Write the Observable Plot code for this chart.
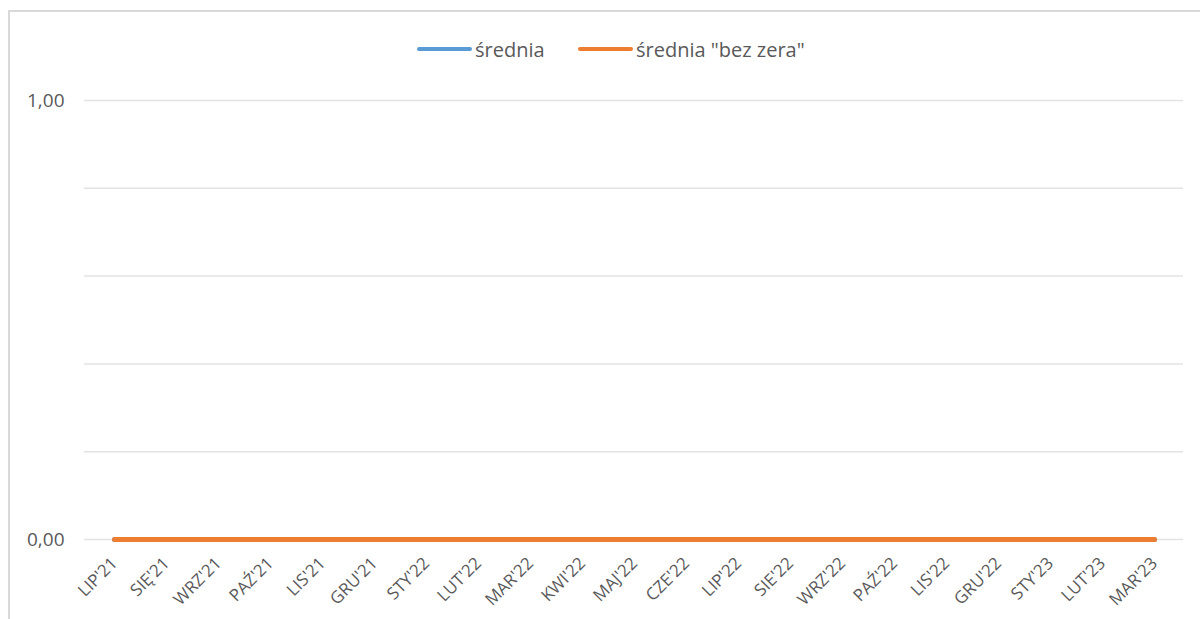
<!DOCTYPE html>
<html>
<head>
<meta charset="utf-8">
<script src="https://cdn.jsdelivr.net/npm/d3@7"></script>
<script src="https://cdn.jsdelivr.net/npm/@observablehq/plot@0.6"></script>
<style>
  html, body { margin: 0; padding: 0; background: #fff; overflow: hidden; width: 1200px; height: 619px; }
  #frame { position: absolute; left: 8px; top: 10px; width: 1300px; height: 700px; border: 2px solid #d9d9d9; box-sizing: border-box; pointer-events: none; }
  #legend { position: absolute; top: 34px; left: 0; width: 1200px; height: 30px; font-family: "Open Sans", sans-serif; font-size: 20px; color: #595959; }
  .item { position: absolute; top: 0; display: flex; align-items: center; height: 30px; }
  .sw { width: 55px; height: 4px; border-radius: 2px; margin-right: 3px; }
  #chart { position: absolute; left: 0; top: 0; }
</style>
</head>
<body>
<div id="chart"></div>
<div id="frame"></div>
<div id="legend"></div>
<script>
const months = ["LIP'21","SIĘ'21","WRZ'21","PAŹ'21","LIS'21","GRU'21","STY'22","LUT'22","MAR'22","KWI'22","MAJ'22","CZE'22","LIP'22","SIE'22","WRZ'22","PAŹ'22","LIS'22","GRU'22","STY'23","LUT'23","MAR'23"];
const srednia =        [0,0,0,0,0,0,0,0,0,0,0,0,0,0,0,0,0,0,0,0,0];
const sredniaBezZera = [0,0,0,0,0,0,0,0,0,0,0,0,0,0,0,0,0,0,0,0,0];
const seriesNames = ["średnia", "średnia \"bez zera\""];
const seriesColors = ["#5B9BD5", "#ED7D31"];
const gridValues = [0, 0.2, 0.4, 0.6, 0.8, 1];
const yLabelValues = [0, 1];

const rows = [];
months.forEach((m, i) => {
  rows.push({month: m, value: srednia[i], series: seriesNames[0]});
});
months.forEach((m, i) => {
  rows.push({month: m, value: sredniaBezZera[i], series: seriesNames[1]});
});

const chart = Plot.plot({
  width: 1200,
  height: 619,
  marginLeft: 84,
  marginRight: 17,
  marginTop: 100,
  marginBottom: 80,
  style: {fontFamily: "'Open Sans', sans-serif", color: "#595959", background: "transparent"},
  x: {type: "point", domain: months, padding: 0.5, label: null},
  y: {domain: [0, 1], label: null},
  color: {domain: seriesNames, range: seriesColors},
  marks: [
    Plot.ruleY(gridValues, {stroke: "#e3e3e3", strokeWidth: 1.5}),
    Plot.lineY(rows.filter(d => d.series === seriesNames[0]), {x: "month", y: "value", stroke: "series", strokeWidth: 5, strokeLinecap: "round"}),
    Plot.lineY(rows.filter(d => d.series === seriesNames[1]), {x: "month", y: "value", stroke: "series", strokeWidth: 5, strokeLinecap: "round"}),
    Plot.axisY(yLabelValues, {tickSize: 0, tickPadding: 20, fontSize: 19, tickFormat: d => d3.format(".2f")(d).replace(".", ","), fill: "#595959"}),
    Plot.axisX(months, {tickSize: 0, tickPadding: 21, tickRotate: -45, fontSize: 17, fill: "#595959", label: null})
  ]
});
document.getElementById("chart").appendChild(chart);

const legend = document.getElementById("legend");
const lefts = [417, 578];
seriesNames.forEach((name, i) => {
  const it = document.createElement("div");
  it.className = "item";
  it.style.left = lefts[i] + "px";
  const sw = document.createElement("div");
  sw.className = "sw";
  sw.style.background = seriesColors[i];
  const t = document.createElement("span");
  t.textContent = name;
  it.appendChild(sw);
  it.appendChild(t);
  legend.appendChild(it);
});
</script>
</body>
</html>
